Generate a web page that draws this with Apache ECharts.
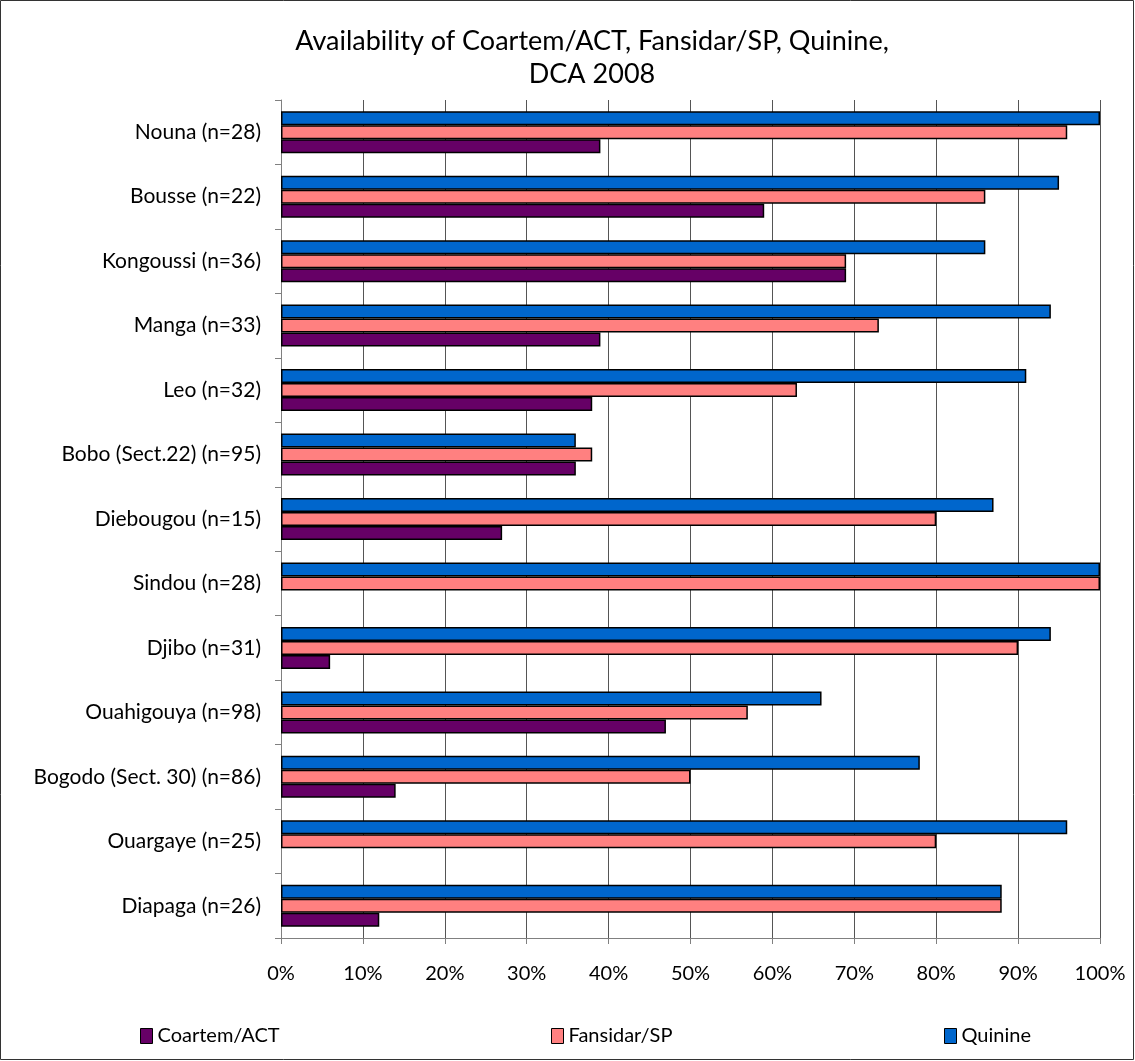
<!DOCTYPE html>
<html>
<head>
<meta charset="utf-8">
<script src="https://cdn.jsdelivr.net/npm/echarts@6/dist/echarts.min.js"></script>
<style>html,body{margin:0;padding:0;background:#fff;}#c{width:1135px;height:1061px;}</style>
</head>
<body>
<div id="c"></div>
<script>
var categories = ["Nouna (n=28)","Bousse (n=22)","Kongoussi (n=36)","Manga (n=33)","Leo (n=32)","Bobo (Sect.22) (n=95)","Diebougou (n=15)","Sindou (n=28)","Djibo (n=31)","Ouahigouya (n=98)","Bogodo (Sect. 30) (n=86)","Ouargaye (n=25)","Diapaga (n=26)"];
var coartem  = [39,59,69,39,38,36,27,0,6,47,14,0,12];
var fansidar = [96,86,69,73,63,38,80,100,90,57,50,80,88];
var quinine  = [100,95,86,94,91,36,87,100,94,66,78,96,88];
var xTicks = [0,10,20,30,40,50,60,70,80,90,100];

var FONT = 'Lato, "Open Sans", sans-serif';
var chart = echarts.init(document.getElementById('c'));
function mkSeries(name, data, color){
  return {name:name, type:'bar', barWidth:14, barGap:'0%',
    data:data.map(function(v){ return v === 0 ? {value:0, itemStyle:{borderWidth:0}} : v; }),
    itemStyle:{color:color, borderColor:'#000', borderWidth:1.5}};
}
var legendBase = {orient:'horizontal', top:1021, itemWidth:12, itemHeight:15, icon:'rect',
  textStyle:{fontFamily:FONT, fontSize:20, color:'#000'}, itemGap:6, selectedMode:false};
chart.setOption({
  backgroundColor:'#fff',
  animation:false,
  title:{text:'Availability of Coartem/ACT, Fansidar/SP, Quinine,\nDCA 2008', left:587, textAlign:'center', top:20,
    textStyle:{fontFamily:FONT, fontSize:27, fontWeight:'normal', color:'#000', lineHeight:33}},
  legend:[
    Object.assign({}, legendBase, {left:135, data:[{name:'Coartem/ACT', itemStyle:{borderColor:'#000',borderWidth:1}}]}),
    Object.assign({}, legendBase, {left:546, data:[{name:'Fansidar/SP', itemStyle:{borderColor:'#000',borderWidth:1}}]}),
    Object.assign({}, legendBase, {left:939, data:[{name:'Quinine', itemStyle:{borderColor:'#000',borderWidth:1}}]})
  ],
  grid:{left:281, right:35, top:100, bottom:123, containLabel:false},
  xAxis:{type:'value', min:0, max:100, interval:10,
    axisLine:{show:true, lineStyle:{color:'#808080', width:1}},
    axisTick:{show:true, length:6, lineStyle:{color:'#808080'}},
    axisLabel:{formatter:function(v){return v+'%';}, fontFamily:FONT, fontSize:20, color:'#000', margin:26},
    splitLine:{show:true, lineStyle:{color:'#555', width:1}}},
  yAxis:{type:'category', data:categories, inverse:true,
    axisLine:{show:true, lineStyle:{color:'#808080', width:1}},
    axisTick:{show:true, length:6, lineStyle:{color:'#808080'}},
    axisLabel:{fontFamily:FONT, fontSize:21, color:'#000', margin:20}},
  series:[
    mkSeries('Quinine', quinine, '#0066CC'),
    mkSeries('Fansidar/SP', fansidar, '#FF8080'),
    mkSeries('Coartem/ACT', coartem, '#660066')
  ],
  graphic:[{type:'rect', shape:{x:0.5,y:0.5,width:1133,height:1059}, style:{fill:'none', stroke:'#333', lineWidth:1}, silent:true}]
});
</script>
</body>
</html>
